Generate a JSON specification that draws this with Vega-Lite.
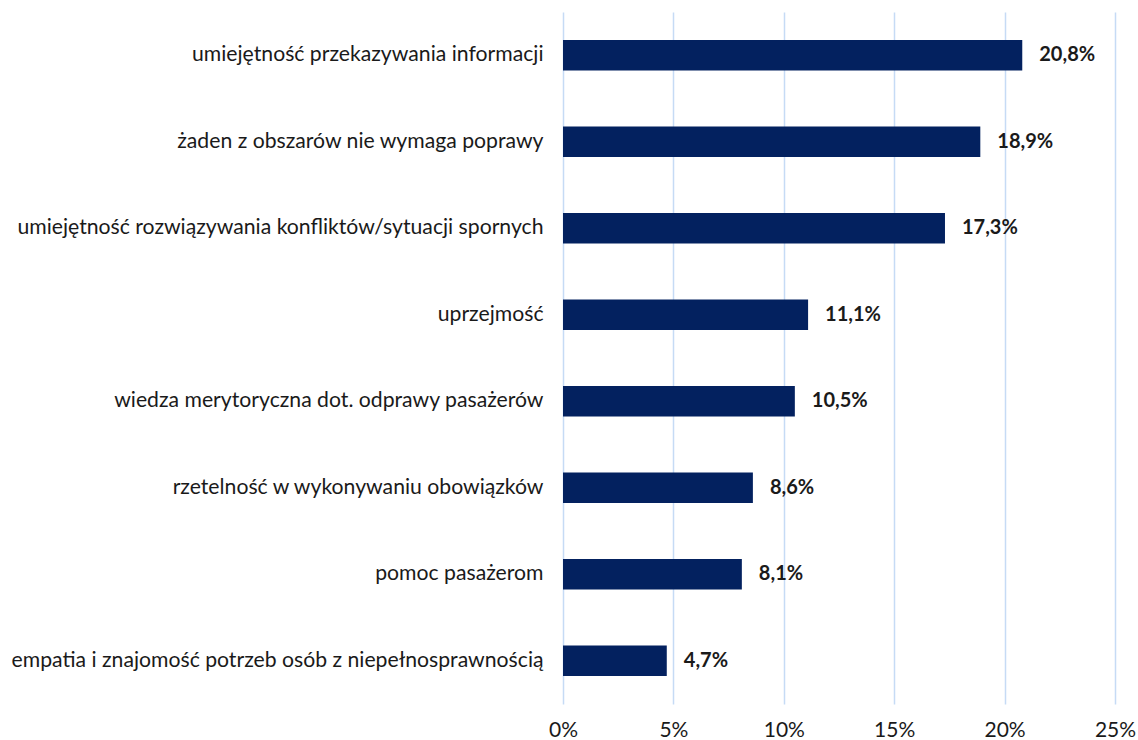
{
  "$schema": "https://vega.github.io/schema/vega-lite/v6.json",
  "width": 552,
  "height": 692,
  "autosize": {"type": "none"},
  "padding": {"left": 563, "top": 12, "right": 23, "bottom": 36},
  "background": "white",
  "config": {
    "locale": {"number": {"decimal": ",", "thousands": " ", "grouping": [3], "currency": ["", " zł"]}},
    "view": {"stroke": null},
    "font": "Lato"
  },
  "data": {
    "values": [
      {"obszar": "umiejętność przekazywania informacji", "wartosc": 0.208},
      {"obszar": "żaden z obszarów nie wymaga poprawy", "wartosc": 0.189},
      {"obszar": "umiejętność rozwiązywania konfliktów/sytuacji spornych", "wartosc": 0.173},
      {"obszar": "uprzejmość", "wartosc": 0.111},
      {"obszar": "wiedza merytoryczna dot. odprawy pasażerów ", "wartosc": 0.105},
      {"obszar": "rzetelność w wykonywaniu obowiązków", "wartosc": 0.086},
      {"obszar": "pomoc pasażerom", "wartosc": 0.081},
      {"obszar": "empatia i znajomość potrzeb osób z niepełnosprawnością", "wartosc": 0.047}
    ]
  },
  "encoding": {
    "y": {
      "field": "obszar",
      "type": "nominal",
      "sort": null,
      "title": null,
      "scale": {"paddingInner": 0.65, "paddingOuter": 0.325},
      "axis": {
        "domain": false,
        "ticks": false,
        "grid": false,
        "labelFont": "Lato",
        "labelFontSize": 21.2,
        "labelColor": "#1a1a1a",
        "labelPadding": 20,
        "labelLimit": 600
      }
    },
    "x": {
      "field": "wartosc",
      "type": "quantitative",
      "title": null,
      "scale": {"domain": [0, 0.25], "nice": false},
      "axis": {
        "format": ".0%",
        "values": [0, 0.05, 0.1, 0.15, 0.2, 0.25],
        "domain": false,
        "ticks": false,
        "grid": true,
        "gridColor": "#c6dbf5",
        "gridWidth": 1.5,
        "labelFont": "Lato",
        "labelFontSize": 21,
        "labelColor": "#1a1a1a",
        "labelPadding": 15,
        "labelFlush": false
      }
    }
  },
  "layer": [
    {"mark": {"type": "bar", "color": "#03215f"}},
    {
      "mark": {"type": "text", "align": "left", "dx": 17, "font": "Lato", "fontSize": 20, "fontWeight": "bold", "color": "#1a1a1a"},
      "encoding": {"text": {"field": "wartosc", "type": "quantitative", "format": ".1%"}}
    }
  ]
}
